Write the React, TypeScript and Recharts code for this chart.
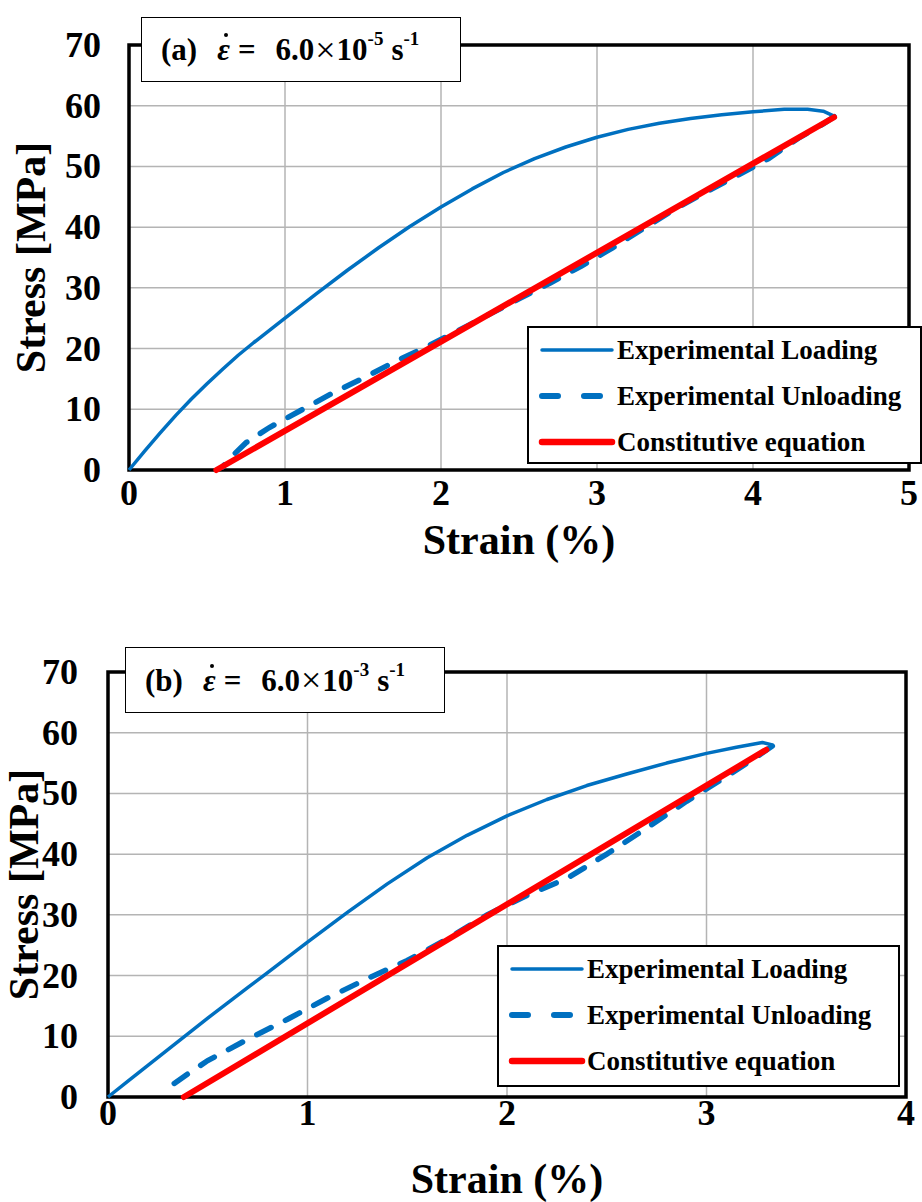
import React from 'react';
import { LineChart, Line, XAxis, YAxis, CartesianGrid, ReferenceArea, Label } from 'recharts';

interface Pt {
    x: number;
    y: number;
}

// (a) strain rate 6.0e-5 /s
const loadingA: Pt[] = [
    { x: 0, y: 0 }, { x: 0.1, y: 3.1 }, { x: 0.2, y: 6.1 }, { x: 0.3, y: 9 }, { x: 0.4, y: 11.7 },
    { x: 0.5, y: 14.2 }, { x: 0.6, y: 16.6 }, { x: 0.7, y: 18.9 }, { x: 0.8, y: 21 }, { x: 0.9, y: 23 },
    { x: 1.0, y: 25 }, { x: 1.2, y: 29 }, { x: 1.4, y: 32.9 }, { x: 1.6, y: 36.6 }, { x: 1.8, y: 40.1 },
    { x: 2.0, y: 43.3 }, { x: 2.2, y: 46.3 }, { x: 2.4, y: 49 }, { x: 2.6, y: 51.3 }, { x: 2.8, y: 53.2 },
    { x: 3.0, y: 54.8 }, { x: 3.2, y: 56.1 }, { x: 3.4, y: 57.1 }, { x: 3.6, y: 57.9 }, { x: 3.8, y: 58.5 },
    { x: 4.0, y: 59 }, { x: 4.2, y: 59.4 }, { x: 4.35, y: 59.4 }, { x: 4.45, y: 59.1 }, { x: 4.52, y: 58.3 },
];

const unloadingA: Pt[] = [
    { x: 4.52, y: 58.2 }, { x: 4.45, y: 57 }, { x: 4.3, y: 54.8 }, { x: 4.1, y: 51.3 }, { x: 3.9, y: 48.5 },
    { x: 3.7, y: 45.8 }, { x: 3.5, y: 43 }, { x: 3.3, y: 39.8 }, { x: 3.1, y: 36.6 }, { x: 2.9, y: 33.6 },
    { x: 2.7, y: 30.8 }, { x: 2.5, y: 28.2 }, { x: 2.3, y: 25.5 }, { x: 2.1, y: 22.8 }, { x: 1.9, y: 20.2 },
    { x: 1.7, y: 17.8 }, { x: 1.5, y: 15.1 }, { x: 1.3, y: 12.6 }, { x: 1.1, y: 9.8 }, { x: 0.9, y: 7 },
    { x: 0.75, y: 4.5 }, { x: 0.65, y: 2 }, { x: 0.6, y: 0.5 },
];

const modelA: Pt[] = [
    { x: 0.56, y: 0 },
    { x: 4.52, y: 58.1 },
];

// (b) strain rate 6.0e-3 /s
const loadingB: Pt[] = [
    { x: 0, y: 0 }, { x: 0.1, y: 2.6 }, { x: 0.2, y: 5.2 }, { x: 0.3, y: 7.8 }, { x: 0.4, y: 10.4 },
    { x: 0.5, y: 13 }, { x: 0.6, y: 15.5 }, { x: 0.7, y: 18 }, { x: 0.8, y: 20.5 }, { x: 0.9, y: 23 },
    { x: 1.0, y: 25.5 }, { x: 1.2, y: 30.4 }, { x: 1.4, y: 35.1 }, { x: 1.6, y: 39.4 }, { x: 1.8, y: 43.1 },
    { x: 2.0, y: 46.3 }, { x: 2.2, y: 49 }, { x: 2.4, y: 51.3 }, { x: 2.6, y: 53.2 }, { x: 2.8, y: 55 },
    { x: 3.0, y: 56.6 }, { x: 3.15, y: 57.6 }, { x: 3.28, y: 58.4 }, { x: 3.33, y: 58 },
];

const unloadingB: Pt[] = [
    { x: 3.33, y: 57.8 }, { x: 3.25, y: 56 }, { x: 3.1, y: 52.8 }, { x: 2.9, y: 48.7 }, { x: 2.7, y: 44.3 },
    { x: 2.5, y: 40 }, { x: 2.3, y: 36 }, { x: 2.1, y: 33.2 }, { x: 1.9, y: 30 }, { x: 1.7, y: 26 },
    { x: 1.5, y: 22.5 }, { x: 1.3, y: 19.5 }, { x: 1.1, y: 16.3 }, { x: 0.9, y: 12.8 }, { x: 0.7, y: 9.5 },
    { x: 0.5, y: 6 }, { x: 0.4, y: 3.8 }, { x: 0.3, y: 1.5 },
];

const modelB: Pt[] = [
    { x: 0.38, y: 0 },
    { x: 3.3, y: 57.2 },
];

const strainTicksA = [0, 1, 2, 3, 4, 5];
const strainTicksB = [0, 1, 2, 3, 4];
const stressTicks = [0, 10, 20, 30, 40, 50, 60, 70];

const seriesNames = ['Experimental Loading', 'Experimental Unloading', 'Constitutive equation'];

const BLUE = '#0070C0';
const RED = '#FF0000';
const FONT = '"Liberation Serif", "Times New Roman", serif';

const textStyle = { fontFamily: FONT, fontWeight: 700, fill: '#000' };

function TitleBox({ tag, exp, style }: { tag: string; exp: string; style: React.CSSProperties }) {
    const sup: React.CSSProperties = { fontSize: 19, position: 'relative', top: -11 };
    return (
        <div
            style={{
                position: 'absolute',
                background: '#fff',
                border: '1.5px solid #000',
                boxSizing: 'border-box',
                fontFamily: FONT,
                fontWeight: 700,
                fontSize: 31,
                display: 'flex',
                alignItems: 'center',
                paddingLeft: 19,
                whiteSpace: 'nowrap',
                lineHeight: 1,
                ...style,
            }}
        >
            <span>({tag})</span>
            <span style={{ marginLeft: 20, fontStyle: 'italic', position: 'relative' }}>
                {'\u03B5'}
                {/* time-derivative dot */}
                <span
                    style={{
                        position: 'absolute',
                        left: 7,
                        top: -1,
                        width: 4,
                        height: 4,
                        borderRadius: 2,
                        background: '#000',
                    }}
                />
            </span>
            <span style={{ marginLeft: 8 }}>=</span>
            <span style={{ marginLeft: 20 }}>6.0</span>
            <span style={{ fontSize: 36, fontWeight: 400, margin: '0 1px' }}>×</span>
            <span>10</span>
            <span style={sup}>{exp}</span>
            <span style={{ marginLeft: 8 }}>s</span>
            <span style={sup}>-1</span>
        </div>
    );
}

function LegendBox({ style, rowGap }: { style: React.CSSProperties; rowGap: number }) {
    const samples = [
        { stroke: BLUE, width: 3.5, dash: undefined },
        { stroke: BLUE, width: 6, dash: '16 26' },
        { stroke: RED, width: 6.5, dash: undefined },
    ];
    return (
        <div
            style={{
                position: 'absolute',
                background: '#fff',
                border: '2px solid #000',
                boxSizing: 'border-box',
                fontFamily: FONT,
                fontWeight: 700,
                fontSize: 27,
                ...style,
            }}
        >
            {seriesNames.map((name, i) => (
                <div key={name} style={{ position: 'absolute', left: 9, top: 7 + i * rowGap, height: 30, display: 'flex', alignItems: 'center', whiteSpace: 'nowrap' }}>
                    <svg width={78} height={12}>
                        <line
                            x1={4}
                            x2={74}
                            y1={6}
                            y2={6}
                            stroke={samples[i].stroke}
                            strokeWidth={samples[i].width}
                            strokeDasharray={samples[i].dash}
                            strokeLinecap="round"
                        />
                    </svg>
                    <span style={{ marginLeft: 1 }}>{name}</span>
                </div>
            ))}
        </div>
    );
}

interface PanelProps {
    loading: Pt[];
    unloading: Pt[];
    model: Pt[];
    xTicks: number[];
    top: number;
    height: number;
    marginTop: number;
    marginRight: number;
    yAxisWidth: number;
    xAxisHeight: number;
    xTickDy: number;
    yTickDx: number;
    xLabelDy: number;
    yLabelX: number;
}

function Panel(p: PanelProps) {
    const xMax = p.xTicks[p.xTicks.length - 1];
    return (
        <div style={{ position: 'absolute', left: 0, top: p.top }}>
            <LineChart
                width={922}
                height={p.height}
                margin={{ top: p.marginTop, right: p.marginRight, bottom: 0, left: 0 }}
            >
                <CartesianGrid stroke="#b4b4b4" strokeWidth={1.5} />
                <XAxis
                    type="number"
                    dataKey="x"
                    domain={[0, xMax]}
                    ticks={p.xTicks}
                    height={p.xAxisHeight}
                    axisLine={false}
                    tickLine={false}
                    tickSize={0}
                    tickMargin={0}
                    tick={({ x, y, payload }: any) => (
                        <text x={x} y={y + p.xTickDy} textAnchor="middle" fontSize={36} style={textStyle}>
                            {payload.value}
                        </text>
                    )}
                >
                    <Label
                        content={({ viewBox }: any) => (
                            <text
                                x={viewBox.x + viewBox.width / 2}
                                y={viewBox.y + p.xLabelDy}
                                textAnchor="middle"
                                fontSize={42}
                                style={textStyle}
                            >
                                Strain (%)
                            </text>
                        )}
                    />
                </XAxis>
                <YAxis
                    type="number"
                    dataKey="y"
                    domain={[0, 70]}
                    ticks={stressTicks}
                    width={p.yAxisWidth}
                    axisLine={false}
                    tickLine={false}
                    tickSize={0}
                    tickMargin={0}
                    tick={({ x, y, payload }: any) => (
                        <text x={x - p.yTickDx} y={y + 12} textAnchor="end" fontSize={36} style={textStyle}>
                            {payload.value}
                        </text>
                    )}
                >
                    <Label
                        content={({ viewBox }: any) => {
                            const cy = viewBox.y + viewBox.height / 2;
                            return (
                                <text
                                    x={p.yLabelX}
                                    y={cy}
                                    transform={`rotate(-90 ${p.yLabelX} ${cy})`}
                                    textAnchor="middle"
                                    dominantBaseline="central"
                                    fontSize={42}
                                    style={textStyle}
                                >
                                    Stress [MPa]
                                </text>
                            );
                        }}
                    />
                </YAxis>
                <Line
                    data={p.loading}
                    dataKey="y"
                    type="linear"
                    stroke={BLUE}
                    strokeWidth={3.5}
                    strokeLinejoin="round"
                    dot={false}
                    isAnimationActive={false}
                />
                <Line
                    data={p.unloading}
                    dataKey="y"
                    type="linear"
                    stroke={BLUE}
                    strokeWidth={5.5}
                    strokeDasharray="16 16"
                    strokeLinecap="round"
                    dot={false}
                    isAnimationActive={false}
                />
                <Line
                    data={p.model}
                    dataKey="y"
                    type="linear"
                    stroke={RED}
                    strokeWidth={6}
                    strokeLinecap="round"
                    dot={false}
                    isAnimationActive={false}
                />
                <ReferenceArea
                    x1={0}
                    x2={xMax}
                    y1={0}
                    y2={70}
                    fill="none"
                    fillOpacity={0}
                    stroke="#000"
                    strokeWidth={3.5}
                    ifOverflow="visible"
                />
            </LineChart>
        </div>
    );
}

export default function App() {
    return (
        <div style={{ position: 'absolute', left: 0, top: 0, width: 922, height: 1202, background: '#fff', overflow: 'hidden' }}>
            <Panel
                loading={loadingA}
                unloading={unloadingA}
                model={modelA}
                xTicks={strainTicksA}
                top={0}
                height={600}
                marginTop={45}
                marginRight={13}
                yAxisWidth={129}
                xAxisHeight={130}
                xTickDy={35}
                yTickDx={28}
                xLabelDy={84}
                yLabelX={31}
            />
            <Panel
                loading={loadingB}
                unloading={unloadingB}
                model={modelB}
                xTicks={strainTicksB}
                top={620}
                height={582}
                marginTop={52}
                marginRight={16}
                yAxisWidth={108}
                xAxisHeight={105}
                xTickDy={28}
                yTickDx={30}
                xLabelDy={96}
                yLabelX={24}
            />
            <TitleBox tag="a" exp="-5" style={{ left: 141, top: 17, width: 320, height: 65 }} />
            <TitleBox tag="b" exp="-3" style={{ left: 125, top: 647, width: 320, height: 66 }} />
            <LegendBox rowGap={46} style={{ left: 527, top: 326, width: 395, height: 138 }} />
            <LegendBox rowGap={46} style={{ left: 497, top: 945, width: 403, height: 142 }} />
        </div>
    );
}
